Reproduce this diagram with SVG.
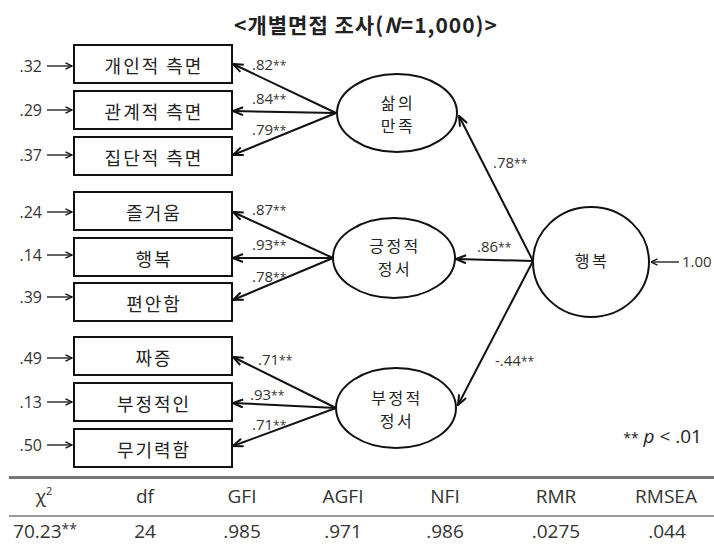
<svg xmlns="http://www.w3.org/2000/svg" width="714" height="546" viewBox="0 0 714 546">
<defs>
<style>
.box{fill:#fff;stroke:#111;stroke-width:2}
.lat{fill:#fff;stroke:#111;stroke-width:2}
.kt{font-family:"Noto Sans CJK KR",sans-serif;font-size:18px;fill:#222;text-anchor:middle;dominant-baseline:central;letter-spacing:2px}
.lt{font-family:"Noto Sans CJK KR",sans-serif;font-size:16px;fill:#222;text-anchor:middle;letter-spacing:2.5px}
.num{font-family:"Open Sans","Noto Sans CJK KR",sans-serif;font-size:15px;fill:#333}
.err{font-family:"Open Sans","Noto Sans CJK KR",sans-serif;font-size:16px;fill:#333;text-anchor:end;dominant-baseline:central}
.st{font-size:12px}
.path{stroke:#111;stroke-width:2;fill:none;marker-end:url(#ah)}
.earr{stroke:#111;stroke-width:1.3;fill:none;marker-end:url(#sh)}
.th{font-family:"Open Sans","Noto Sans CJK KR",sans-serif;font-size:19px;fill:#333;text-anchor:middle}
</style>
<marker id="ah" viewBox="0 0 12 10" refX="11" refY="5" markerWidth="12" markerHeight="10" orient="auto" markerUnits="userSpaceOnUse">
<path d="M1,1 L11,5 L1,9" fill="none" stroke="#111" stroke-width="2"/>
</marker>
<marker id="sh" viewBox="0 0 8 8" refX="7.5" refY="4" markerWidth="8" markerHeight="8" orient="auto" markerUnits="userSpaceOnUse">
<path d="M1,0.8 L7.5,4 L1,7.2" fill="none" stroke="#111" stroke-width="1.3"/>
</marker>
</defs>
<rect width="714" height="546" fill="#fff"/>

<text x="366" y="33" font-family="'Noto Sans CJK KR',sans-serif" font-size="21" font-weight="bold" fill="#222" text-anchor="middle" letter-spacing="1">&lt;개별면접 조사(<tspan font-style="italic">N</tspan>=1,000)&gt;</text>

<g id="connectors">
<path class="path" d="M336,113 L233,64"/>
<path class="path" d="M336,113 L233,111"/>
<path class="path" d="M336,113 L233,155"/>
<path class="path" d="M333,258 L233,212"/>
<path class="path" d="M333,258 L233,258"/>
<path class="path" d="M333,258 L233,300"/>
<path class="path" d="M336,408 L233,357"/>
<path class="path" d="M336,408 L233,403"/>
<path class="path" d="M336,408 L233,446"/>
<path class="path" d="M533,261 L459,116"/>
<path class="path" d="M533,261 L456,259"/>
<path class="path" d="M533,261 L458,405"/>
<path class="earr" d="M47,66 L72,66"/>
<path class="earr" d="M47,110 L72,110"/>
<path class="earr" d="M47,155 L72,155"/>
<path class="earr" d="M47,212 L72,212"/>
<path class="earr" d="M47,255 L72,255"/>
<path class="earr" d="M47,297 L72,297"/>
<path class="earr" d="M47,358 L72,358"/>
<path class="earr" d="M47,402 L72,402"/>
<path class="earr" d="M47,445 L72,445"/>
<path class="earr" d="M679,262 L651,262"/>
<text class="num" x="252" y="70">.82<tspan class="st">**</tspan></text>
<text class="num" x="252" y="104">.84<tspan class="st">**</tspan></text>
<text class="num" x="252" y="135">.79<tspan class="st">**</tspan></text>
<text class="num" x="252" y="215">.87<tspan class="st">**</tspan></text>
<text class="num" x="252" y="250">.93<tspan class="st">**</tspan></text>
<text class="num" x="252" y="282">.78<tspan class="st">**</tspan></text>
<text class="num" x="258" y="365">.71<tspan class="st">**</tspan></text>
<text class="num" x="250" y="400">.93<tspan class="st">**</tspan></text>
<text class="num" x="252" y="430">.71<tspan class="st">**</tspan></text>
<text class="num" x="493" y="168">.78<tspan class="st">**</tspan></text>
<text class="num" x="477" y="252">.86<tspan class="st">**</tspan></text>
<text class="num" x="495" y="366">-.44<tspan class="st">**</tspan></text>
<text class="err" x="42" y="66">.32</text>
<text class="err" x="42" y="110">.29</text>
<text class="err" x="42" y="155">.37</text>
<text class="err" x="42" y="212">.24</text>
<text class="err" x="42" y="255">.14</text>
<text class="err" x="42" y="297">.39</text>
<text class="err" x="42" y="358">.49</text>
<text class="err" x="42" y="402">.13</text>
<text class="err" x="42" y="445">.50</text>
<text class="num" x="682" y="267" font-size="16">1.00</text>
</g>

<g id="b1"><rect class="box" x="74" y="45" width="158" height="38"/><text class="kt" x="154" y="65">개인적 측면</text></g>
<g id="b2"><rect class="box" x="74" y="91" width="158" height="38"/><text class="kt" x="154" y="111">관계적 측면</text></g>
<g id="b3"><rect class="box" x="74" y="137" width="158" height="38"/><text class="kt" x="154" y="157">집단적 측면</text></g>
<g id="b4"><rect class="box" x="74" y="192" width="158" height="38"/><text class="kt" x="154" y="212">즐거움</text></g>
<g id="b5"><rect class="box" x="74" y="238" width="158" height="38"/><text class="kt" x="154" y="258">행복</text></g>
<g id="b6"><rect class="box" x="74" y="283" width="158" height="38"/><text class="kt" x="154" y="303">편안함</text></g>
<g id="b7"><rect class="box" x="74" y="337" width="158" height="38"/><text class="kt" x="154" y="357">짜증</text></g>
<g id="b8"><rect class="box" x="74" y="383" width="158" height="38"/><text class="kt" x="154" y="403">부정적인</text></g>
<g id="b9"><rect class="box" x="74" y="429" width="158" height="38"/><text class="kt" x="154" y="449">무기력함</text></g>

<g id="l1"><ellipse class="lat" cx="397" cy="113" rx="60" ry="39"/><text class="lt"><tspan x="398" y="109">삶의</tspan><tspan x="398" y="132">만족</tspan></text></g>
<g id="l2"><ellipse class="lat" cx="394" cy="258" rx="61" ry="40"/><text class="lt"><tspan x="395" y="252">긍정적</tspan><tspan x="395" y="275">정서</tspan></text></g>
<g id="l3"><ellipse class="lat" cx="396" cy="408" rx="60" ry="40"/><text class="lt"><tspan x="397" y="404">부정적</tspan><tspan x="397" y="427">정서</tspan></text></g>
<g id="l4"><ellipse class="lat" cx="591" cy="262" rx="58" ry="55"/><text class="lt" x="592" y="267" font-size="17">행복</text></g>

<text x="702" y="443" font-family="'Open Sans',sans-serif" font-size="19" fill="#222" text-anchor="end"><tspan font-size="14">**</tspan> <tspan font-style="italic">p</tspan> &lt;  .01</text>

<g id="table">
<line x1="9" y1="477.5" x2="714" y2="477.5" stroke="#777" stroke-width="3"/>
<line x1="9" y1="516" x2="714" y2="516" stroke="#999" stroke-width="2"/>
<text class="th" x="44" y="503">χ<tspan font-size="11" dy="-8">2</tspan></text>
<text class="th" x="145" y="503">df</text>
<text class="th" x="242" y="503">GFI</text>
<text class="th" x="343" y="503">AGFI</text>
<text class="th" x="445" y="503">NFI</text>
<text class="th" x="556" y="503">RMR</text>
<text class="th" x="666" y="503">RMSEA</text>
<text class="th" x="45" y="538">70.23<tspan font-size="14" dy="-4">**</tspan></text>
<text class="th" x="145" y="538">24</text>
<text class="th" x="242" y="538">.985</text>
<text class="th" x="343" y="538">.971</text>
<text class="th" x="445" y="538">.986</text>
<text class="th" x="556" y="538">.0275</text>
<text class="th" x="667" y="538">.044</text>
</g>
</svg>
